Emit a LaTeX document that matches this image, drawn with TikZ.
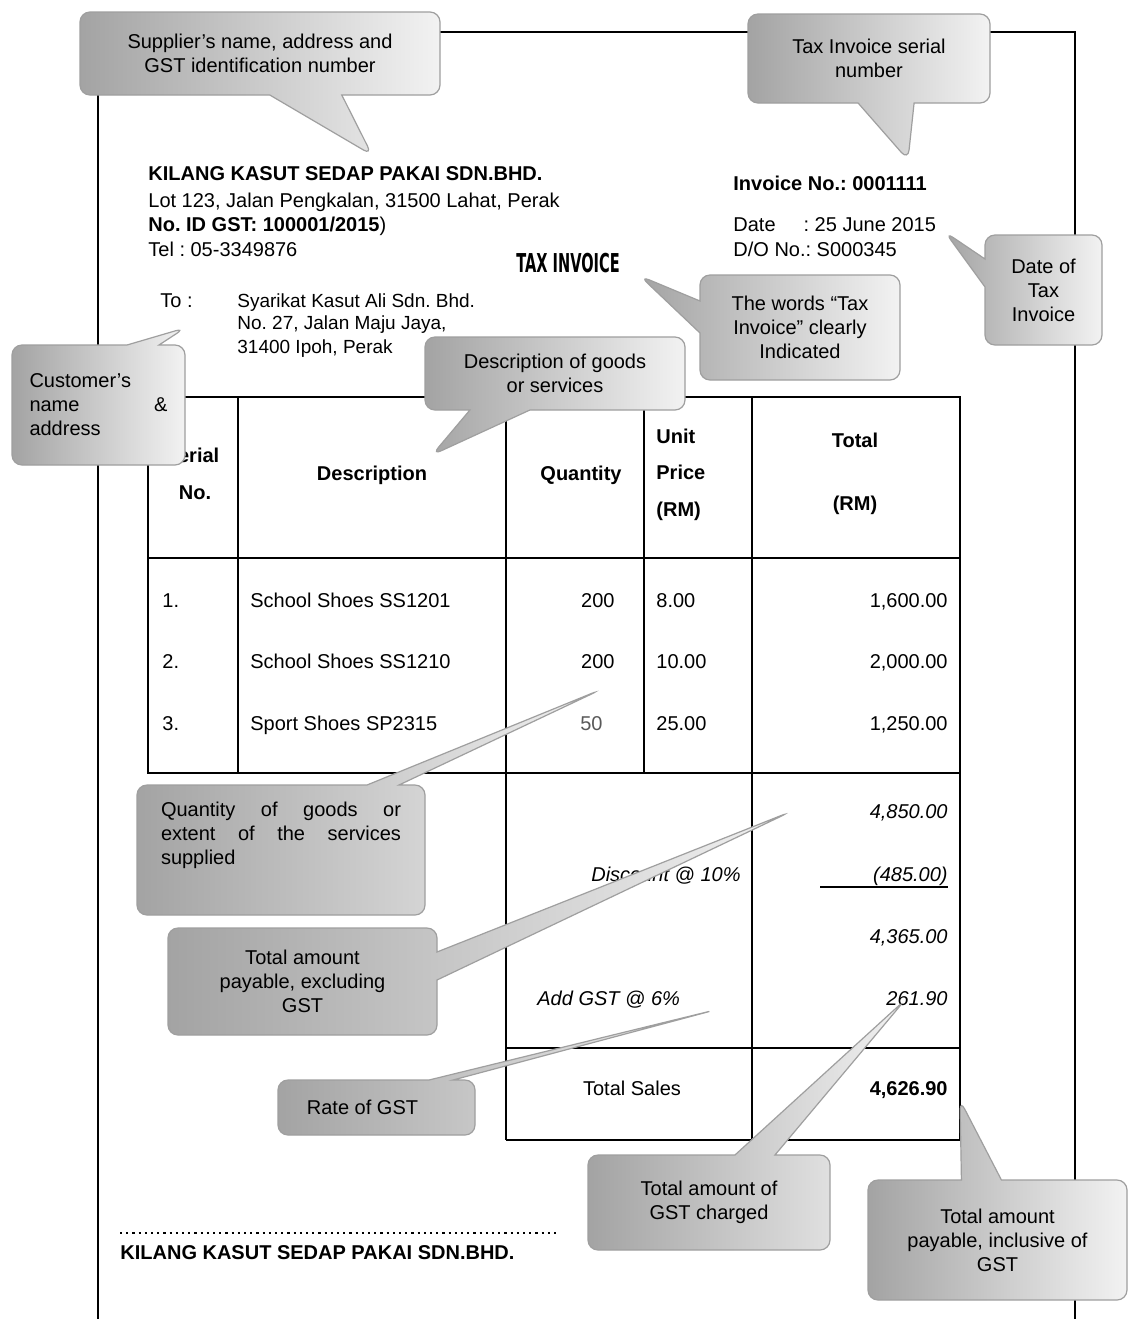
\documentclass[tikz,border=0pt]{standalone}
\usepackage{fontspec}
\setmainfont{Liberation Sans}
\newfontfamily\heavyfont{DejaVu Sans}
\usetikzlibrary{shapes.callouts}
\frenchspacing
\begin{document}
\begin{tikzpicture}[x=0.5pt,y=-0.5pt,
  txt/.style={inner sep=0pt, font=\fontsize{10}{12}\selectfont\frenchspacing},
  bt/.style={txt, font=\fontsize{10}{12}\selectfont\bfseries\frenchspacing},
  it/.style={txt, font=\fontsize{10}{12}\selectfont\itshape\frenchspacing},
  tbl/.style={line width=0.7pt},
  call/.style={rectangle callout, rounded corners=5pt, draw=gray!75, line width=0.6pt,
    left color=gray!72, right color=gray!10, inner sep=2pt, align=center,
    font=\fontsize{10}{12}\selectfont\frenchspacing}]
\useasboundingbox (0,0) rectangle (1129,1319);
\fill[white] (0,0) rectangle (1129,1319);
% page frame
\draw[line width=0.7pt] (98,1319) -- (98,32) -- (1075,32) -- (1075,1319);

% supplier header
\node[bt, anchor=base west] (sup1) at (148,180) {KILANG KASUT SEDAP PAKAI SDN.BHD.};
\node[txt, anchor=base west] (sup2) at (148,207) {Lot 123, Jalan Pengkalan, 31500 Lahat, Perak};
\node[txt, anchor=base west] (sup3) at (148,231) {\textbf{No. ID GST: 100001/2015})};
\node[txt, anchor=base west] (sup4) at (148,256) {Tel : 05-3349876};

\node[bt, anchor=base west] (inv1) at (733,190) {Invoice No.: 0001111};
\node[txt, anchor=base west] (inv2) at (733,231) {Date\hspace{1.4em}: 25 June 2015};
\node[txt, anchor=base west] (inv3) at (733,256) {D/O No.: S000345};

\node[inner sep=0pt, anchor=center] (taxinv) at (568,263)
  {\scalebox{0.56}[1]{\heavyfont\fontsize{13}{14}\selectfont\bfseries TAX INVOICE}};

\node[txt, anchor=base west] (to) at (160,307) {To :};
\node[txt, anchor=base west, font=\fontsize{9.5}{11}\selectfont] (cus1) at (237,307) {Syarikat Kasut Ali Sdn. Bhd.};
\node[txt, anchor=base west, font=\fontsize{9.5}{11}\selectfont] (cus2) at (237,329) {No. 27, Jalan Maju Jaya,};
\node[txt, anchor=base west, font=\fontsize{9.5}{11}\selectfont] (cus3) at (237,353) {31400 Ipoh, Perak};

% table
\draw[tbl] (148,397) rectangle (960,773);
\draw[tbl] (148,558) -- (960,558);
\draw[tbl] (238,397) -- (238,773);
\draw[tbl] (506,397) -- (506,1140);
\draw[tbl] (644,397) -- (644,773);
\draw[tbl] (752,397) -- (752,1140);
\draw[tbl] (960,773) -- (960,1140);
\draw[tbl] (506,1048) -- (960,1048);
\draw[tbl] (506,1140) -- (960,1140);

% header
\node[bt, anchor=base] (h1a) at (192,462) {Serial};
\node[bt, anchor=base] (h1b) at (195,499) {No.};
\node[bt, anchor=base] (h2) at (372,480) {Description};
\node[bt, anchor=base] (h3) at (581,480) {Quantity};
\node[bt, anchor=base west] (h4a) at (656,443) {Unit};
\node[bt, anchor=base west] (h4b) at (656,479) {Price};
\node[bt, anchor=base west] (h4c) at (656,516) {(RM)};
\node[bt, anchor=base] (h5a) at (855,447) {Total};
\node[bt, anchor=base] (h5b) at (855,510) {(RM)};

% rows
\node[txt, anchor=base west] (r1a) at (162,607) {1.};
\node[txt, anchor=base west] (r1b) at (250,607) {School Shoes SS1201};
\node[txt, anchor=base east] (r1c) at (615,607) {200};
\node[txt, anchor=base west] (r1d) at (656,607) {8.00};
\node[txt, anchor=base east] (r1e) at (948,607) {1,600.00};
\node[txt, anchor=base west] (r2a) at (162,668) {2.};
\node[txt, anchor=base west] (r2b) at (250,668) {School Shoes SS1210};
\node[txt, anchor=base east] (r2c) at (615,668) {200};
\node[txt, anchor=base west] (r2d) at (656,668) {10.00};
\node[txt, anchor=base east] (r2e) at (948,668) {2,000.00};
\node[txt, anchor=base west] (r3a) at (162,730) {3.};
\node[txt, anchor=base west] (r3b) at (250,730) {Sport Shoes SP2315};
\node[txt, anchor=base east, text=gray!70!black] (r3c) at (603,730) {50};
\node[txt, anchor=base west] (r3d) at (656,730) {25.00};
\node[txt, anchor=base east] (r3e) at (948,730) {1,250.00};

% totals
\node[it, anchor=base east] (t1) at (948,818) {4,850.00};
\node[it, anchor=base east] (dl) at (741,881) {Discount @ 10\%};
\node[it, anchor=base east] (t2) at (948,881) {(485.00)};
\draw[line width=0.7pt] (820,887) -- (948,887);
\node[it, anchor=base east] (t3) at (948,943) {4,365.00};
\node[it, anchor=base west] (gl) at (537,1005) {Add GST @ 6\%};
\node[it, anchor=base east] (t4) at (948,1005) {261.90};
\node[txt, anchor=base] (tsl) at (632,1095) {Total Sales};
\node[bt, anchor=base east] (t5) at (948,1095) {4,626.90};

% signature
\draw[dotted, line width=1.1pt] (120,1233) -- (560,1233);
\node[bt, anchor=base west] (sig) at (120,1259) {KILANG KASUT SEDAP PAKAI SDN.BHD.};

% pointer tips
\coordinate (p1) at (372,155);
\coordinate (p2) at (908,160);
\coordinate (p3) at (945,232);
\coordinate (p4) at (640,276);
\coordinate (p5) at (432,455);
\coordinate (p6) at (185,328);
\coordinate (p7) at (600,690);
\coordinate (p8) at (790,812);
\coordinate (p9) at (715,1010);
\coordinate (p10) at (905,1000);
\coordinate (p11) at (960,1100);

% callouts
\node[call, minimum width=180pt, minimum height=41.5pt, callout absolute pointer={(p1)}, callout pointer width=36pt] (c1) at (260,53.5)
  {Supplier's name, address and\\GST identification number};
\node[call, minimum width=121pt, minimum height=44.5pt, callout absolute pointer={(p2)}, callout pointer width=28pt] (c2) at (869,58.5)
  {Tax Invoice serial\\number};
\node[call, minimum width=58.5pt, minimum height=55pt, callout absolute pointer={(p3)}, callout pointer width=14pt] (c3) at (1043.5,290)
  {Date of\\Tax\\Invoice};
\node[call, minimum width=100pt, minimum height=52.5pt, callout absolute pointer={(p4)}, callout pointer width=16pt] (c4) at (800,327.5)
  {The words ``Tax\\Invoice'' clearly\\Indicated};
\node[call, minimum width=130pt, minimum height=36.5pt, callout absolute pointer={(p5)}, callout pointer width=30pt] (c5) at (555,373.5)
  {Description of goods\\or services};
\node[call, minimum width=86.5pt, minimum height=60pt, callout absolute pointer={(p6)}, callout pointer width=16pt, align=left, text width=69pt] (c6) at (98.5,405)
  {Customer's\\name\hfill\&\\address};
\node[call, minimum width=144pt, minimum height=65pt, callout absolute pointer={(p7)}, callout pointer width=16pt, align=justify, text width=120pt, anchor=center] (c7) at (281,850)
  {Quantity of goods or\linebreak extent of the services\linebreak supplied\par\noindent\rule{0pt}{14pt}};
\node[call, minimum width=134.5pt, minimum height=53.5pt, callout absolute pointer={(p8)}, callout pointer width=14pt] (c8) at (302.5,981.5)
  {Total amount\\payable, excluding\\GST};
\node[call, minimum width=98.5pt, minimum height=27.5pt, callout absolute pointer={(p9)}, callout pointer width=12pt] (c9) at (376.5,1107.5)
  {Rate of GST\hspace{14pt}};
\node[call, minimum width=121pt, minimum height=47.5pt, callout absolute pointer={(p10)}, callout pointer width=20pt] (c10) at (709,1202.5)
  {Total amount of\\GST charged};
\node[call, minimum width=129.5pt, minimum height=60pt, callout absolute pointer={(p11)}, callout pointer width=20pt] (c11) at (997.5,1240)
  {Total amount\\payable, inclusive of\\GST};
\end{tikzpicture}
\end{document}
